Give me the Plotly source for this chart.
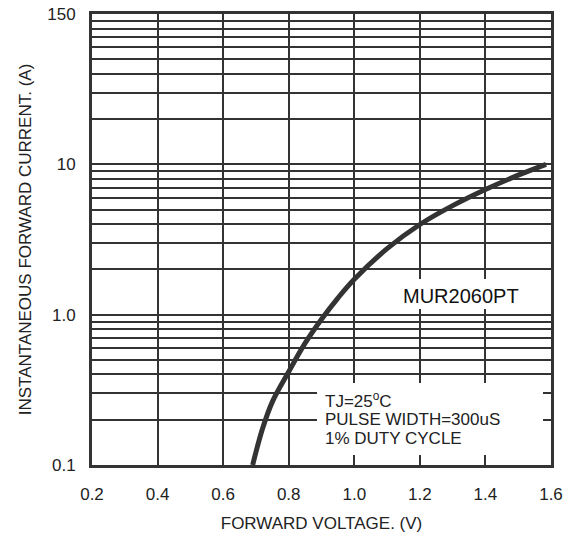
import plotly.graph_objects as go

# Data
voltage = [0.69, 0.72, 0.75, 0.80, 0.85, 0.90, 0.95, 1.00, 1.10, 1.20, 1.30, 1.40, 1.50, 1.585]
current = [0.10, 0.174, 0.263, 0.417, 0.646, 0.933, 1.29, 1.72, 2.75, 3.98, 5.31, 6.80, 8.47, 10.0]

x_ticks = [0.2, 0.4, 0.6, 0.8, 1.0, 1.2, 1.4, 1.6]
x_ticktext = ["0.2", "0.4", "0.6", "0.8", "1.0", "1.2", "1.4", "1.6"]
y_ticks = [0.1, 1, 10, 100]
y_ticktext = ["0.1", "1.0", "10", "150"]
y_minor = [m * d for d in (0.1, 1, 10) for m in range(2, 10)]

W, H = 577, 533
L, R, T, B = 92, 551, 14, 465
INK = "#333333"
FONT = "Liberation Sans, Arial, sans-serif"


def px(x):
    return (x - L) / (R - L)


def py(y):
    return (B - y) / (B - T)


fig = go.Figure()
fig.add_trace(go.Scatter(
    x=voltage, y=current, mode="lines",
    line=dict(color=INK, width=5, shape="spline", smoothing=1.0),
    showlegend=False, hoverinfo="skip",
))

fig.update_layout(
    width=W, height=H,
    margin=dict(l=L, r=W - R, t=T, b=H - B, pad=0, autoexpand=False),
    paper_bgcolor="white", plot_bgcolor="white",
    font=dict(family=FONT, color=INK, size=17),
    xaxis=dict(
        range=[0.2, 1.6], tickvals=x_ticks, ticktext=x_ticktext,
        showgrid=True, gridcolor=INK, gridwidth=1.7,
        showline=True, linecolor=INK, linewidth=3, mirror=True,
        ticks="", ticklabelstandoff=12, zeroline=False, automargin=False,
        tickfont=dict(size=17, color="#222222"),
        title=dict(text="FORWARD VOLTAGE. (V)", font=dict(size=17, color="#222222"), standoff=20),
    ),
    yaxis=dict(
        type="log", range=[-1, 2], tickvals=y_ticks, ticktext=y_ticktext,
        showgrid=True, gridcolor=INK, gridwidth=1.7,
        minor=dict(tickvals=y_minor, showgrid=True, gridcolor=INK, gridwidth=1.7, ticks=""),
        showline=True, linecolor=INK, linewidth=3, mirror=True,
        ticks="", ticklabelstandoff=10, zeroline=False, automargin=False,
        tickfont=dict(size=17, color="#222222"),
        title=dict(text="INSTANTANEOUS FORWARD CURRENT. (A)", font=dict(size=17, color="#222222"), standoff=12),
    ),
)

# White boxes behind the notes (cover the grid like in the original)
fig.add_shape(type="rect", xref="paper", yref="paper",
              x0=px(317), x1=px(543), y0=py(455), y1=py(383),
              fillcolor="white", line=dict(width=0), layer="above")
fig.add_shape(type="rect", xref="paper", yref="paper",
              x0=px(393), x1=px(532), y0=py(309), y1=py(279),
              fillcolor="white", line=dict(width=0), layer="above")

fig.add_annotation(xref="paper", yref="paper", x=px(461), y=py(296),
                   text="MUR2060PT", showarrow=False, xanchor="center", yanchor="middle",
                   font=dict(size=20, color="#111111", family=FONT))

note_lines = ["TJ=25<sup>o</sup>C", "PULSE WIDTH=300uS", "1% DUTY CYCLE"]
note_y = [400, 419, 438]
for txt, yy in zip(note_lines, note_y):
    fig.add_annotation(xref="paper", yref="paper", x=px(323), y=py(yy),
                       text=txt, showarrow=False, xanchor="left", yanchor="middle",
                       font=dict(size=17, color="#222222", family=FONT))

fig.write_html("out.html")
